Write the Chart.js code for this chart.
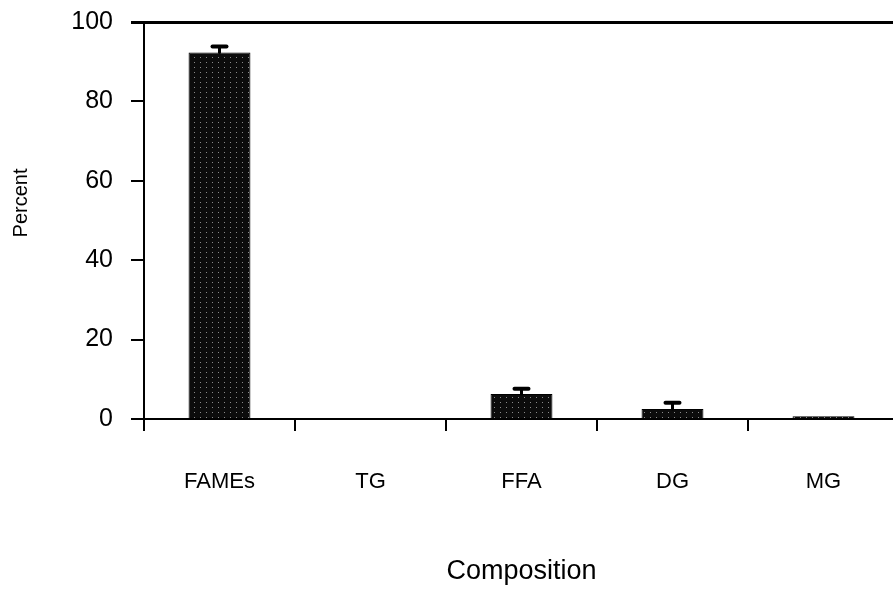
<!DOCTYPE html>
<html>
<head>
<meta charset="utf-8">
<script src="https://cdn.jsdelivr.net/npm/chart.js@4/dist/chart.umd.min.js"></script>
<style>
  html, body { margin: 0; padding: 0; background: #fff; overflow: hidden; }
  #wrap { position: relative; width: 910px; height: 591px; }
</style>
</head>
<body>
<div id="wrap"><canvas id="chart"></canvas></div>
<script>
// values
const categories = ["FAMEs", "TG", "FFA", "DG", "MG"];
const percentValues = [92.3, 0, 6.3, 2.5, 0.7];
const percentErrors = [1.5, 0, 1.3, 1.6, 0];
const yTicks = [0, 20, 40, 60, 80, 100];

const FONT = "'Liberation Sans', Arial, sans-serif";

// stippled dark fill like the scanned bars
function makePattern() {
    const c = document.createElement("canvas");
    c.width = 6;
    c.height = 5;
    const g = c.getContext("2d");
    g.fillStyle = "#0c0c0c";
    g.fillRect(0, 0, 6, 5);
    g.fillStyle = "#8a8a8a";
    g.fillRect(2, 2, 1, 1);
    return g.createPattern(c, "repeat");
}

const errorBars = {
    id: "errorBars",
    afterDatasetsDraw(chart) {
        const ctx = chart.ctx;
        const meta = chart.getDatasetMeta(0);
        const y = chart.scales.y;
        ctx.save();
        ctx.strokeStyle = "#000";
        ctx.lineCap = "round";
        percentErrors.forEach((err, i) => {
            if (!err) return;
            const x = meta.data[i].x;
            const yBar = y.getPixelForValue(percentValues[i]);
            const yTop = y.getPixelForValue(percentValues[i] + err);
            ctx.lineWidth = 3;
            ctx.beginPath();
            ctx.moveTo(x, yBar);
            ctx.lineTo(x, yTop);
            ctx.stroke();
            ctx.lineWidth = 4;
            ctx.beginPath();
            ctx.moveTo(x - 7, yTop);
            ctx.lineTo(x + 7, yTop);
            ctx.stroke();
        });
        ctx.restore();
    }
};

const yTitle = {
    id: "yTitle",
    afterDraw(chart) {
        const ctx = chart.ctx;
        ctx.save();
        ctx.translate(21, 203);
        ctx.rotate(-Math.PI / 2);
        ctx.font = "20px " + FONT;
        ctx.fillStyle = "#000";
        ctx.textAlign = "center";
        ctx.textBaseline = "middle";
        ctx.fillText("Percent", 0, 0);
        ctx.restore();
    }
};

new Chart(document.getElementById("chart"), {
    type: "bar",
    data: {
        labels: categories,
        datasets: [{
            data: percentValues,
            backgroundColor: makePattern(),
            borderColor: "#000",
            borderWidth: 1,
            categoryPercentage: 1,
            barPercentage: 0.41,
        }],
    },
    options: {
        responsive: true,
        maintainAspectRatio: false,
        animation: false,
        layout: { padding: { top: 22, right: 11, left: 0, bottom: 0 } },
        plugins: { legend: { display: false }, tooltip: { enabled: false } },
        scales: {
            x: {
                offset: true,
                grid: {
                    offset: true,
                    drawOnChartArea: false,
                    tickLength: 12,
                    tickColor: "#000",
                    lineWidth: 2,
                },
                border: { color: "#000", width: 2 },
                ticks: {
                    color: "#000",
                    padding: 38,
                    font: { family: FONT, size: 22 },
                },
                title: {
                    display: true,
                    text: "Composition",
                    color: "#000",
                    font: { family: FONT, size: 27 },
                    padding: { top: 0, bottom: 3 },
                },
                afterFit(scale) { scale.height = 172; },
            },
            y: {
                min: 0,
                max: 100,
                afterBuildTicks(scale) {
                    scale.ticks = yTicks.map(v => ({ value: v }));
                },
                grid: {
                    tickLength: 13,
                    tickColor: "#000",
                    lineWidth: (c) => (c.tick && c.tick.value === 100 ? 3 : 2),
                    color: (c) => (c.tick && c.tick.value === 100 ? "#000" : "rgba(0,0,0,0)"),
                },
                border: { color: "#000", width: 2 },
                ticks: {
                    color: "#000",
                    padding: 18,
                    font: { family: FONT, size: 25 },
                },
                afterFit(scale) {
                    scale.width = 144;
                    scale.paddingTop = 0;
                    scale.paddingBottom = 0;
                },
            },
        },
    },
    plugins: [errorBars, yTitle],
});
</script>
</body>
</html>
